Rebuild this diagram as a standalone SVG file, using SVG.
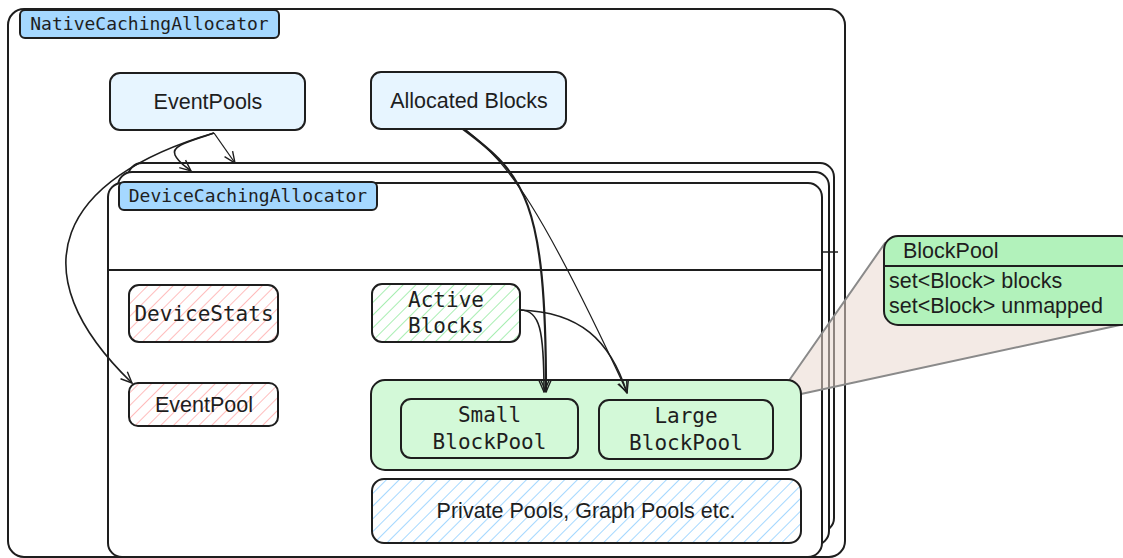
<svg xmlns="http://www.w3.org/2000/svg" width="1123" height="558" viewBox="0 0 1123 558">
<defs>
<pattern id="hRed" patternUnits="userSpaceOnUse" width="9" height="9" patternTransform="rotate(45)"><line x1="0" y1="0" x2="0" y2="9" stroke="#ffbdbd" stroke-width="2"/></pattern>
<pattern id="hGreen" patternUnits="userSpaceOnUse" width="9" height="9" patternTransform="rotate(45)"><line x1="0" y1="0" x2="0" y2="9" stroke="#a8eeb2" stroke-width="2"/></pattern>
<pattern id="hBlue" patternUnits="userSpaceOnUse" width="9" height="9" patternTransform="rotate(45)"><line x1="0" y1="0" x2="0" y2="9" stroke="#a5d8ff" stroke-width="2"/></pattern>
<marker id="arr" viewBox="0 0 20 20" refX="18" refY="10" markerWidth="14" markerHeight="14" markerUnits="userSpaceOnUse" orient="auto"><path d="M2,3 L18,10 L2,17" fill="none" stroke="#1e1e1e" stroke-width="2"/></marker>
</defs>
<style>
.box{stroke:#1e1e1e;stroke-width:2;}
.frame{fill:#fff;stroke:#1e1e1e;stroke-width:2;}
.lbl{fill:#a5d8ff;stroke:#1e1e1e;stroke-width:2;}
.mono{font-family:"DejaVu Sans Mono","Liberation Mono",monospace;fill:#1e1e1e;}
.sans{font-family:"Liberation Sans",Arial,sans-serif;font-size:21.5px;fill:#1e1e1e;}
.con{fill:none;stroke:#1e1e1e;}
</style>
<rect width="1123" height="558" fill="#fff"/>
<g id="native">
<rect class="frame" x="8" y="9" width="837" height="548" rx="16"/>
<rect class="lbl" x="20" y="10" width="259" height="28" rx="5"/>
<text class="mono" x="149.5" y="30" font-size="18" text-anchor="middle">NativeCachingAllocator</text>
</g>
<g id="eventpools">
<rect class="box" fill="#e7f5ff" x="110" y="73" width="195" height="57" rx="10"/>
<text class="sans" x="208" y="109" text-anchor="middle">EventPools</text>
</g>
<g id="allocated">
<rect class="box" fill="#e7f5ff" x="371" y="72" width="195" height="57" rx="10"/>
<text class="sans" x="469" y="108" text-anchor="middle">Allocated Blocks</text>
</g>
<g id="device-back">
<rect class="frame" x="128" y="163" width="706" height="369" rx="14"/>
</g>
<g id="device-mid">
<rect class="frame" x="118" y="172" width="711" height="373" rx="14"/>
</g>
<g id="device">
<rect class="frame" x="108" y="183" width="714" height="374" rx="14"/>
<rect class="lbl" x="119" y="182" width="258" height="28" rx="5"/>
<text class="mono" x="248" y="202" font-size="18" text-anchor="middle">DeviceCachingAllocator</text>
<line x1="108" y1="270" x2="822" y2="270" stroke="#1e1e1e" stroke-width="2"/>
<line x1="822" y1="252" x2="838" y2="252" stroke="#1e1e1e" stroke-width="1.5"/>
</g>
<g id="callout">
<polygon points="788,382 885,243 1120,325 801,394" fill="#e9d8d0" fill-opacity="0.55" stroke="#8a8a8a" stroke-width="2" stroke-linejoin="round"/>
</g>
<g id="devicestats">
<rect x="129" y="285" width="149" height="57" rx="10" fill="url(#hRed)"/>
<rect class="box" fill="none" x="129" y="285" width="149" height="57" rx="10"/>
<text class="mono" x="204" y="321" font-size="21" text-anchor="middle">DeviceStats</text>
</g>
<g id="eventpool">
<rect x="129" y="383" width="149" height="43" rx="9" fill="url(#hRed)"/>
<rect class="box" fill="none" x="129" y="383" width="149" height="43" rx="9"/>
<text class="sans" x="204" y="412" text-anchor="middle">EventPool</text>
</g>
<g id="activeblocks">
<rect x="372" y="284" width="148" height="58" rx="10" fill="url(#hGreen)"/>
<rect class="box" fill="none" x="372" y="284" width="148" height="58" rx="10"/>
<text class="mono" x="446" y="307" font-size="21" text-anchor="middle">Active</text>
<text class="mono" x="446" y="333" font-size="21" text-anchor="middle">Blocks</text>
</g>
<g id="pools">
<rect class="box" fill="#d3f9d8" x="371" y="380" width="430" height="90" rx="14"/>
</g>
<g id="smallpool">
<rect class="box" fill="#d3f9d8" x="401" y="399" width="177" height="59" rx="10"/>
<text class="mono" x="489.5" y="422" font-size="21" text-anchor="middle">Small</text>
<text class="mono" x="489.5" y="449" font-size="21" text-anchor="middle">BlockPool</text>
</g>
<g id="largepool">
<rect class="box" fill="#d3f9d8" x="599" y="400" width="174" height="59" rx="10"/>
<text class="mono" x="686" y="423" font-size="21" text-anchor="middle">Large</text>
<text class="mono" x="686" y="450" font-size="21" text-anchor="middle">BlockPool</text>
</g>
<g id="private">
<rect x="372" y="479" width="429" height="64" rx="12" fill="url(#hBlue)"/>
<rect class="box" fill="none" x="372" y="479" width="429" height="64" rx="12"/>
<text class="sans" x="586" y="518" text-anchor="middle">Private Pools, Graph Pools etc.</text>
</g>
<g id="blockpool-class">
<rect class="box" fill="#b2f2bb" x="884" y="236" width="250" height="89" rx="14"/>
<line x1="884" y1="266" x2="1123" y2="266" stroke="#1e1e1e" stroke-width="2"/>
<text class="sans" x="903" y="258">BlockPool</text>
<text class="sans" x="889" y="288">set&lt;Block&gt; blocks</text>
<text class="sans" x="889" y="313">set&lt;Block&gt; unmapped</text>
</g>
<g id="connectors">
<path class="con" stroke-width="1.3" d="M214,133 L235,163" marker-end="url(#arr)"/>
<path class="con" stroke-width="1.6" d="M214,133 C195,140 170,145 175,155 C178,162 185,166 191,171" marker-end="url(#arr)"/>
<path class="con" stroke-width="1.6" d="M214,133 C60,178 15,270 132,383" marker-end="url(#arr)"/>
<path class="con" stroke-width="2.2" d="M463,129 C525,175 546,200 546,392" marker-end="url(#arr)"/>
<path class="con" stroke-width="1.2" d="M466,130 C510,165 540,205 627,392" marker-end="url(#arr)"/>
<path class="con" stroke-width="1.6" d="M520,310 C540,310 544,330 544,392" marker-end="url(#arr)"/>
<path class="con" stroke-width="1.6" d="M520,310 C580,312 610,340 627,393" marker-end="url(#arr)"/>
</g>
</svg>
